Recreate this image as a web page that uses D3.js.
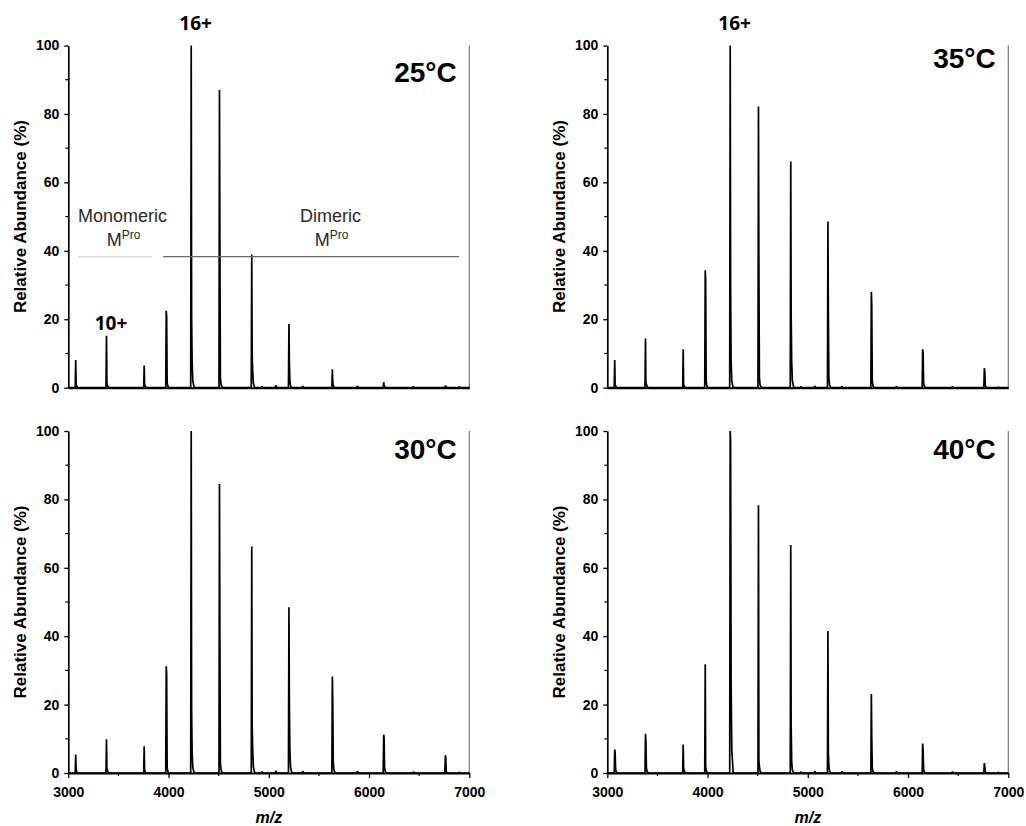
<!DOCTYPE html>
<html><head><meta charset="utf-8">
<script src="https://cdn.jsdelivr.net/npm/d3@7"></script>
<style>body{margin:0;background:#fff}</style>
</head><body>
<svg id="c" width="1026" height="826" xmlns="http://www.w3.org/2000/svg"></svg>
<script>
// ---------- DATA ----------
const peakMz  = [3074, 3381, 3757, 3977, 4226, 4508, 4830, 5201, 5634, 6146, 6761];
const minorMz = [4929, 5069, 5338, 5883, 6441, 6900];

const temps = ["25°C", "35°C", "30°C", "40°C"];

const main25 = [8.1, 15.2, 6.5, 22.5, 100, 87.0, 38.9, 18.6, 5.4, 1.6, 0.6];
const add1_25 = [1.0, 1.5, 1.0, 20.8, 21.0, 44.0, 9.8, 7.9, 1.5, 0.8, 0.3];
const add2_25 = [0.5, 0.8, 0.5, 1.5, 7.8, 3.0, 5.0, 2.0, 0.8, 0.3, 0.2];
const minor25 = [0.4, 0.7, 0.5, 0.5, 0.3, 0.3];

const main35 = [8.1, 14.4, 11.2, 34.3, 100, 82.2, 66.1, 48.6, 28.0, 11.2, 5.7];
const add1_35 = [1.0, 1.5, 1.0, 31.4, 28.8, 37.0, 21.5, 21.5, 24.0, 10.2, 5.0];
const add2_35 = [0.5, 1.0, 0.5, 2.0, 7.8, 3.0, 8.0, 3.0, 2.0, 1.5, 0.8];
const minor35 = [0.3, 0.5, 0.4, 0.4, 0.3, 0.2];

const main30 = [5.4, 9.9, 7.8, 31.2, 100, 84.5, 66.2, 48.5, 28.2, 11.2, 5.2];
const add1_30 = [1.0, 1.2, 1.0, 29.0, 19.0, 39.9, 13.8, 21.1, 20.9, 10.2, 4.7];
const add2_30 = [0.5, 0.8, 0.5, 1.5, 6.3, 3.0, 7.3, 6.8, 3.1, 1.5, 0.5];
const minor30 = [0.3, 0.6, 0.5, 0.5, 0.3, 0.2];

const main40 = [6.9, 11.5, 8.3, 31.8, 100, 78.3, 66.7, 41.5, 23.1, 8.6, 2.9];
const add1_40 = [6.0, 9.0, 1.5, 2.0, 97.0, 3.7, 13.6, 6.4, 10.5, 6.6, 2.0];
const add2_40 = [1.0, 1.5, 0.8, 1.0, 26.3, 2.0, 3.5, 2.0, 1.5, 1.0, 0.5];
const minor40 = [0.3, 0.5, 0.4, 0.4, 0.3, 0.2];

const yTicks = [0, 20, 40, 60, 80, 100];
const yMinor = [10, 30, 50, 70, 90];
const xTicks = [3000, 4000, 5000, 6000, 7000];
const xMinor = [3500, 4500, 5500, 6500];

// temperature label position (abundance of baseline)
const tempLabelY = [89.4, 93.5, 91.8, 91.8];

// annotations of the 25 °C panel (data units)
const chargeTop = "16+";
const chargeTopMz = 4270;
const charge10 = "10+", charge10Mz = 3426, charge10Y = 17;
const monoMz = [3097, 3836], dimerMz = [3946, 6897], bracketY = 38.3;

// ---------- LAYOUT ----------
const svg = d3.select("#c");
svg.append("rect").attr("width", 1026).attr("height", 826).attr("fill", "#fff");

const cols = [[68.3, 469.3], [607.3, 1008.3]];
const rows = [[45.5, 387.7], [431, 773]];

const panels = [
  {t: temps[0], main: main25, a1: add1_25, a2: add2_25, minor: minor25, c: 0, r: 0, ly: tempLabelY[0]},
  {t: temps[1], main: main35, a1: add1_35, a2: add2_35, minor: minor35, c: 1, r: 0, ly: tempLabelY[1]},
  {t: temps[2], main: main30, a1: add1_30, a2: add2_30, minor: minor30, c: 0, r: 1, ly: tempLabelY[2]},
  {t: temps[3], main: main40, a1: add1_40, a2: add2_40, minor: minor40, c: 1, r: 1, ly: tempLabelY[3]}
];

const boldFont = "'Liberation Sans', Arial, sans-serif";

function spectrumPoints(p) {
  const pts = [[3000, 0]];
  peakMz.forEach((mz, i) => {
    pts.push([mz - 5, 0], [mz, p.main[i]], [mz + 4, p.a1[i]], [mz + 9, p.a2[i]],
             [mz + 16, p.a2[i] * 0.25], [mz + 30, 0]);
  });
  minorMz.forEach((mz, i) => pts.push([mz - 5, 0], [mz, p.minor[i]], [mz + 12, 0]));
  pts.push([7000, 0]);
  pts.sort((a, b) => a[0] - b[0]);
  return pts;
}

panels.forEach((p, idx) => {
  const [x0, x1] = cols[p.c];
  const [y0, y1] = rows[p.r];
  const x = d3.scaleLinear().domain([3000, 7000]).range([x0, x1]);
  const y = d3.scaleLinear().domain([0, 100]).range([y1, y0]);
  const g = svg.append("g");

  // right border
  g.append("line").attr("x1", x(7000)).attr("x2", x(7000))
    .attr("y1", y(0)).attr("y2", y(100))
    .attr("stroke", "#777").attr("stroke-width", 1.2);

  // spectrum
  const line = d3.line().x(d => x(d[0])).y(d => y(d[1]));
  g.append("path").datum(spectrumPoints(p))
    .attr("d", line).attr("fill", "none").attr("stroke", "#000")
    .attr("stroke-width", 1.7).attr("stroke-linejoin", "bevel");

  // y axis
  const ya = g.append("g").attr("transform", `translate(${x0},0)`)
    .call(d3.axisLeft(y).tickValues(yTicks).tickSize(4).tickPadding(5).tickSizeOuter(0));
  ya.append("g").selectAll("line").data(yMinor).join("line")
    .attr("x1", 0).attr("x2", -3).attr("y1", d => y(d)).attr("y2", d => y(d))
    .attr("stroke", "#000").attr("stroke-width", 1.2);
  ya.select(".domain").attr("stroke-width", 1.7);
  ya.selectAll(".tick line").attr("stroke-width", 1.3);
  ya.selectAll("text").attr("font-family", boldFont).attr("font-weight", "bold")
    .attr("font-size", 14).attr("fill", "#000");

  // x axis
  const xa = g.append("g").attr("transform", `translate(0,${y1})`);
  if (p.r === 1) {
    xa.call(d3.axisBottom(x).tickValues(xTicks).tickFormat(d3.format("d"))
      .tickSize(5).tickPadding(9).tickSizeOuter(0));
    xa.append("g").selectAll("line").data(xMinor).join("line")
      .attr("x1", d => x(d)).attr("x2", d => x(d)).attr("y1", 0).attr("y2", 3)
      .attr("stroke", "#000").attr("stroke-width", 1.2);
    xa.selectAll("text").attr("font-family", boldFont).attr("font-weight", "bold")
      .attr("font-size", 14).attr("fill", "#000");
    xa.selectAll(".tick line").attr("stroke-width", 1.3);
    g.append("text").attr("x", (x0 + x1) / 2).attr("y", 823)
      .attr("text-anchor", "middle").attr("font-family", boldFont)
      .attr("font-weight", "bold").attr("font-style", "italic").attr("font-size", 16)
      .text("m/z");
  } else {
    xa.call(d3.axisBottom(x).tickValues([]).tickSizeOuter(0));
  }
  xa.select(".domain").attr("stroke-width", 1.9);

  // y title
  g.append("text")
    .attr("transform", `translate(${x0 - 48},${(y0 + y1) / 2}) rotate(-90)`)
    .attr("text-anchor", "middle").attr("dominant-baseline", "central")
    .attr("font-family", boldFont).attr("font-weight", "bold").attr("font-size", 17)
    .text("Relative Abundance (%)");

  // temperature label
  g.append("text").attr("x", x(7000) - 12.6).attr("y", y(p.ly))
    .attr("text-anchor", "end").attr("font-family", boldFont)
    .attr("font-weight", "bold").attr("font-size", 28).text(p.t);

  // 16+ label above top panels
  if (p.r === 0) {
    g.append("text").attr("x", x(chargeTopMz)).attr("y", 30)
      .attr("text-anchor", "middle").attr("font-family", "'Open Sans', sans-serif")
      .attr("font-weight", "bold").attr("font-size", 19).text(chargeTop);
  }

  // annotations for 25 °C
  if (idx === 0) {
    g.append("text").attr("x", x(charge10Mz)).attr("y", y(charge10Y))
      .attr("text-anchor", "middle").attr("font-family", "'Open Sans', sans-serif")
      .attr("font-weight", "bold").attr("font-size", 19).text(charge10);

    g.append("line").attr("x1", x(monoMz[0])).attr("x2", x(monoMz[1]))
      .attr("y1", y(bracketY)).attr("y2", y(bracketY))
      .attr("stroke", "#dcdcdc").attr("stroke-width", 1.5);
    g.append("line").attr("x1", x(dimerMz[0])).attr("x2", x(dimerMz[1]))
      .attr("y1", y(bracketY)).attr("y2", y(bracketY))
      .attr("stroke", "#6a6a6a").attr("stroke-width", 1.3);

    const lbl = (mzc, word) => {
      g.append("text").attr("x", x(mzc)).attr("y", y(48.5))
        .attr("text-anchor", "middle").attr("font-family", boldFont)
        .attr("font-size", 18).attr("fill", "#2a2a2a").text(word);
      const t = g.append("text").attr("x", x(mzc) + 1).attr("y", y(41.4))
        .attr("text-anchor", "middle").attr("font-family", boldFont)
        .attr("font-size", 18).attr("fill", "#2a2a2a");
      t.append("tspan").text("M");
      t.append("tspan").attr("font-size", 12).attr("dy", -7).text("Pro");
    };
    lbl(3541, "Monomeric");
    lbl(5616, "Dimeric");
  }
});
</script>
</body></html>
